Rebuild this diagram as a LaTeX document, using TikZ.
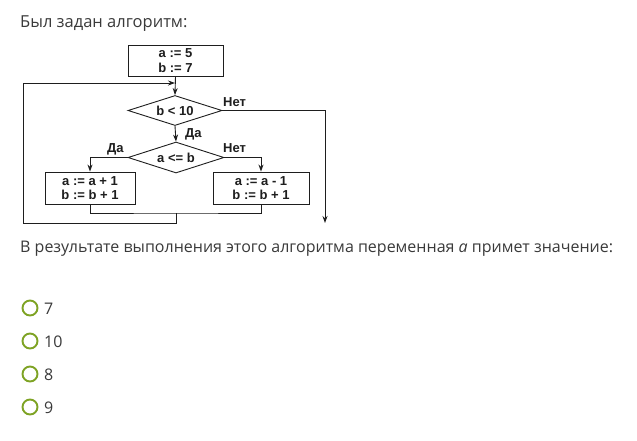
\documentclass[tikz,border=0pt]{standalone}
\usepackage{fontspec}
\setmainfont{Open Sans}
\newfontfamily\diagfont{Liberation Sans}[BoldFont={* Bold}]
\usetikzlibrary{shapes.geometric,arrows.meta}
\definecolor{txt}{HTML}{3A3A3A}
\definecolor{ln}{HTML}{1E1E1E}
\definecolor{radio}{HTML}{7EA324}
\begin{document}
\begin{tikzpicture}[x=1pt,y=-1pt,
  pagetext/.style={anchor=base west,inner sep=0,text=txt,font=\fontsize{16}{19}\selectfont},
  blk/.style={draw=ln,line width=0.9pt,rectangle,inner sep=0,font=\diagfont\bfseries\fontsize{13}{14.5}\selectfont,align=center,text=ln},
  dec/.style={draw=ln,line width=0.9pt,diamond,inner sep=0,shape aspect=3,font=\diagfont\bfseries\fontsize{13}{14.5}\selectfont,text=ln},
  lbl/.style={inner sep=0,font=\diagfont\bfseries\fontsize{13}{14.5}\selectfont,text=ln},
  flow/.style={draw=ln,line width=0.9pt},
  arr/.style={flow,-{Stealth[length=7pt,width=5pt]}},
  rad/.style={draw=radio,line width=1.9pt,circle,minimum size=15pt,inner sep=0}]
\useasboundingbox (0,0) rectangle (637,440);
\fill[white] (0,0) rectangle (637,440);
\node[pagetext,font=\fontsize{16.5}{19}\selectfont] (title) at (20,27) {Был задан алгоритм:};
% flowchart
\node[blk,minimum width=95pt,minimum height=31pt] (init) at (175.5,60.5) {a := 5\\b := 7};
\node[dec,minimum width=94pt,minimum height=30pt] (d1) at (175,110.5) {b < 10};
\node[dec,minimum width=96pt,minimum height=31pt] (d2) at (176,157.5) {a <= b};
\node[blk,minimum width=90pt,minimum height=32pt] (inc) at (90,188) {a := a + 1\\b := b + 1};
\node[blk,minimum width=96pt,minimum height=32pt] (dec) at (261,188) {a := a - 1\\b := b + 1};
\coordinate (loopin) at (175,83);
\coordinate (join) at (176,213);
\coordinate (exit) at (325,223);
\draw[arr] (init.south) -- (d1.north);
\draw[arr] (d1.south) -- (d2.north);
\draw[arr] (d1.east) -| (exit);
\draw[arr] (d2.west) -| (inc.north);
\draw[arr] (d2.east) -| (dec.north);
\draw[flow] (inc.south) |- (join) -| (dec.south);
\draw[arr] (join) -- (176,223) -| (23,83) -- (loopin);
\node[lbl,anchor=base west] (n1) at (223,106) {Нет};
\node[lbl,anchor=base west] (y1) at (185,137) {Да};
\node[lbl,anchor=base west] (y2) at (107,152) {Да};
\node[lbl,anchor=base west] (n2) at (223,152) {Нет};
% question
\node[pagetext] (q) at (20,252) {В результате выполнения этого алгоритма переменная \textit{a} примет значение:};
\node[rad] (r1) at (30,308) {};
\node[rad] (r2) at (30,341) {};
\node[rad] (r3) at (30,374) {};
\node[rad] (r4) at (30,407) {};
\node[pagetext] (o1) at (44,314.5) {7};
\node[pagetext] (o2) at (44,347.5) {10};
\node[pagetext] (o3) at (44,380.5) {8};
\node[pagetext] (o4) at (44,413.5) {9};
\end{tikzpicture}
\end{document}
